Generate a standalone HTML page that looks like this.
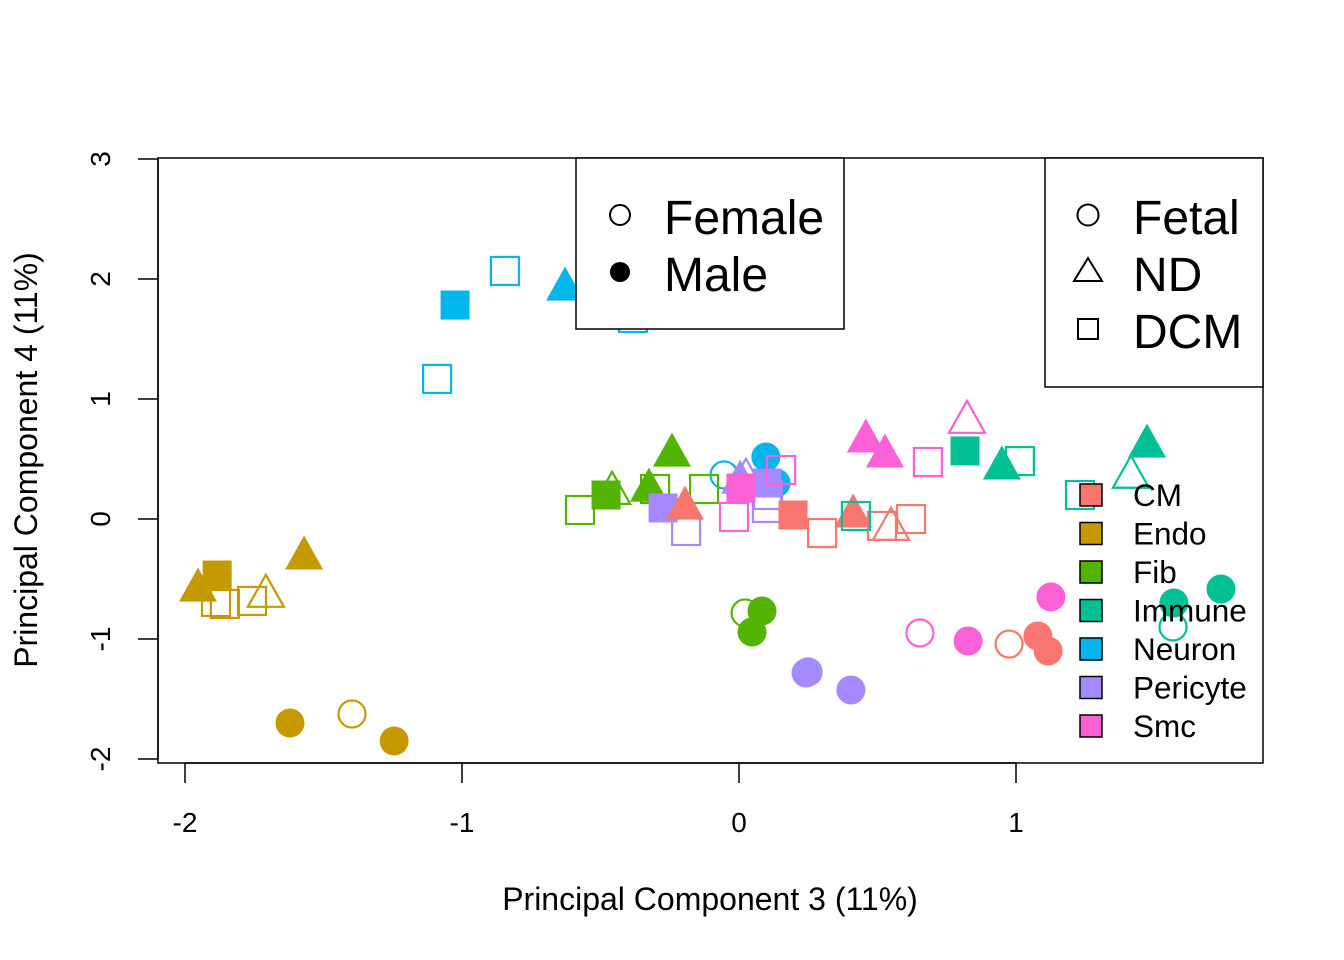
<!DOCTYPE html>
<html><head><meta charset="utf-8"><style>
html,body{margin:0;padding:0;background:#fff;}
svg{display:block;font-family:"Liberation Sans",Arial,sans-serif;}
</style></head><body>
<svg id="chart" width="1344" height="960" viewBox="0 0 1344 960" xmlns="http://www.w3.org/2000/svg"></svg>
<script>
// ---- data ----
const cellTypes = ["CM","Endo","Fib","Immune","Neuron","Pericyte","Smc"];
const cellColors = ["#F8766D","#C49A00","#53B400","#00C094","#00B6EB","#A58AFF","#FB61D7"];
const xTicks = [-2,-1,0,1];
const yTicks = [-2,-1,0,1,2,3];
// each sample: pc3, pc4, cell type index, group (0 Fetal,1 ND,2 DCM), sex (0 F,1 M)
const pc3 = [
 -1.953,-1.884,-1.888,-1.856,-1.758,-1.708,-1.570,-1.621,-1.245,-1.397,
 -1.025,-0.845,-1.090,-0.628,-0.383,-0.054,0.097,0.134,
 -0.574,-0.480,-0.458,-0.303,-0.325,-0.242,-0.126,0.022,0.083,0.047,
 -0.274,-0.191,0.025,0.004,0.101,0.105,0.101,0.249,0.242,0.404,
 -0.195,0.195,0.300,0.412,0.516,0.621,0.549,1.079,1.116,0.975,
 0.007,-0.018,0.152,0.458,0.527,0.682,0.823,1.126,0.827,0.653,
 0.816,1.014,0.949,1.473,1.415,1.231,0.422,1.570,1.740,1.567];
const pc4 = [
 -0.575,-0.467,-0.692,-0.708,-0.683,-0.625,-0.308,-1.700,-1.850,-1.625,
 1.783,2.067,1.167,1.933,1.675,0.367,0.517,0.300,
 0.075,0.200,0.233,0.250,0.258,0.550,0.250,-0.783,-0.767,-0.942,
 0.092,-0.100,0.342,0.325,0.300,0.200,0.092,-1.275,-1.283,-1.425,
 0.108,0.033,-0.117,0.042,-0.058,0.000,-0.067,-0.975,-1.100,-1.042,
 0.258,0.017,0.408,0.667,0.542,0.475,0.825,-0.650,-1.017,-0.950,
 0.567,0.483,0.442,0.625,0.367,0.200,0.025,-0.700,-0.583,-0.900];
const cellIdx = [
 1,1,1,1,1,1,1,1,1,1,
 4,4,4,4,4,4,4,4,
 2,2,2,2,2,2,2,2,2,2,
 5,5,5,5,5,5,5,5,5,5,
 0,0,0,0,0,0,0,0,0,0,
 6,6,6,6,6,6,6,6,6,6,
 3,3,3,3,3,3,3,3,3,3];
const group = [
 1,2,2,2,2,1,1,0,0,0,
 2,2,2,1,2,0,0,0,
 2,2,1,2,1,1,2,0,0,0,
 2,2,1,1,2,2,2,0,0,0,
 1,2,2,1,2,2,1,0,0,0,
 2,2,2,1,1,2,1,0,0,0,
 2,2,1,1,1,2,2,0,0,0];
const sex = [
 1,1,0,0,0,0,1,1,1,0,
 1,0,0,1,0,0,1,1,
 0,1,0,0,1,1,0,0,1,1,
 1,0,0,1,1,0,0,0,1,1,
 1,1,0,1,0,0,0,1,1,0,
 1,0,0,1,1,0,0,1,1,0,
 1,0,1,1,0,0,0,1,1,0];

// ---- axes ----
const X0=185, XU=277, Y0=519, YU=120;
const xs = v => X0 + (v+2)*XU;
const ys = v => Y0 - v*YU;
const NS="http://www.w3.org/2000/svg";
const svg=document.getElementById('chart');
function mk(tag,attrs,parent){const e=document.createElementNS(NS,tag);for(const k in attrs)e.setAttribute(k,attrs[k]);(parent||svg).appendChild(e);return e;}

const pts=mk('g',{});


function marker(cx,cy,shape,filled,col,parent,name){
  const fill=filled?col:'none', sw=filled?0:2.2;
  let el;
  if(shape===0){el=mk('circle',{cx:cx,cy:cy,r:filled?14.5:13.5,fill:fill,stroke:col,'stroke-width':sw},parent);}
  else if(shape===1){const h=filled?34:32,w=filled?38:36;el=mk('polygon',{points:`${cx},${cy-h*0.6} ${cx-w/2},${cy+h*0.4} ${cx+w/2},${cy+h*0.4}`,fill:fill,stroke:col,'stroke-width':sw},parent);}
  else {const s=filled?29:28;el=mk('rect',{x:cx-s/2,y:cy-s/2,width:s,height:s,fill:fill,stroke:col,'stroke-width':sw},parent);}
  
  
  return el;
}
for(let i=0;i<pc3.length;i++){
  const m=marker(xs(pc3[i]),ys(pc4[i]),group[i],sex[i]===1,cellColors[cellIdx[i]],pts,'point-'+cellTypes[cellIdx[i]].toLowerCase());
}

// plot frame
const frame=mk('rect',{x:158,y:158,width:1105,height:605,fill:'none',stroke:'#000','stroke-width':1.5});



// x axis
const xa=mk('g',{});


mk('line',{x1:xs(-2),x2:xs(1),y1:763,y2:763,stroke:'#000','stroke-width':1.5},xa);
xTicks.forEach(t=>{
  mk('line',{x1:xs(t),x2:xs(t),y1:763,y2:783,stroke:'#000','stroke-width':1.5},xa);
  const tx=mk('text',{x:xs(t),y:832,'font-size':28,'text-anchor':'middle'},xa);
  tx.textContent=String(t);
  
  
});
// y axis
const ya=mk('g',{});


mk('line',{x1:158,x2:158,y1:ys(-2),y2:ys(3),stroke:'#000','stroke-width':1.5},ya);
yTicks.forEach(t=>{
  mk('line',{x1:138,x2:158,y1:ys(t),y2:ys(t),stroke:'#000','stroke-width':1.5},ya);
  const tx=mk('text',{x:110,y:ys(t),'font-size':28,'text-anchor':'middle',transform:`rotate(-90 110 ${ys(t)})`},ya);
  tx.textContent=String(t);
  
  
});
const xt=mk('text',{x:710,y:910,'font-size':32,'text-anchor':'middle'});
xt.textContent='Principal Component 3 (11%)';


const yt=mk('text',{x:37,y:460,'font-size':32,'text-anchor':'middle',transform:'rotate(-90 37 460)'});
yt.textContent='Principal Component 4 (11%)';



// sex legend
const sl=mk('g',{});


mk('rect',{x:576,y:158,width:268,height:171,fill:'#fff',stroke:'#000','stroke-width':1.5},sl);
mk('circle',{cx:620,cy:215,r:10,fill:'none',stroke:'#000','stroke-width':2},sl);
mk('circle',{cx:620,cy:272,r:10,fill:'#000'},sl);
[['Female',234],['Male',291]].forEach(([t,y])=>{const e=mk('text',{x:664,y:y,'font-size':48},sl);e.textContent=t;
  
  });

// group legend
const gl=mk('g',{});


mk('rect',{x:1045,y:158,width:218,height:229,fill:'#fff',stroke:'#000','stroke-width':1.5},gl);
mk('circle',{cx:1088,cy:215,r:10.5,fill:'none',stroke:'#000','stroke-width':2},gl);
mk('polygon',{points:'1088,258 1074,281 1102,281',fill:'none',stroke:'#000','stroke-width':2},gl);
mk('rect',{x:1078,y:319,width:20,height:20,fill:'none',stroke:'#000','stroke-width':2},gl);
[['Fetal',234],['ND',291],['DCM',348]].forEach(([t,y])=>{const e=mk('text',{x:1133,y:y,'font-size':48},gl);e.textContent=t;
  
  });

// cell type legend
const cl=mk('g',{});


cellTypes.forEach((t,i)=>{
  const y=495+i*38.5;
  mk('rect',{x:1080,y:y-11,width:22,height:22,fill:cellColors[i],stroke:'#000','stroke-width':1.5},cl);
  const e=mk('text',{x:1133,y:y+11,'font-size':31.5},cl);
  e.textContent=t;
  
  
});
</script>
</body></html>
